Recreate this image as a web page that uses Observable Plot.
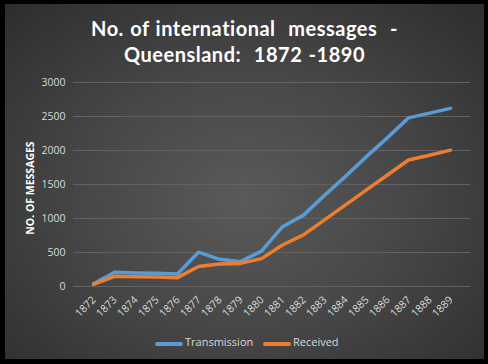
<!DOCTYPE html>
<html><head><meta charset="utf-8">
<script src="https://cdn.jsdelivr.net/npm/d3@7"></script>
<script src="https://cdn.jsdelivr.net/npm/@observablehq/plot@0.6"></script>
<style>
html,body{margin:0;padding:0;background:#000;}
#outer{position:relative;width:488px;height:364px;background:#000;overflow:hidden;font-family:"Open Sans",Lato,sans-serif;}
#inner{position:absolute;left:5px;top:4px;width:479px;height:355px;
 background:radial-gradient(ellipse 75% 80% at 50% 55%, #5a5a5a 0%, #474747 45%, #2b2b2b 100%);}
#title{position:absolute;left:0;top:11px;width:479px;text-align:center;color:#fff;font-family:Lato,"Open Sans",sans-serif;font-weight:bold;font-size:20px;line-height:26px;letter-spacing:0.5px;word-spacing:1px;white-space:pre;}
#ylab{position:absolute;left:25px;top:184px;transform:translate(-50%,-50%) rotate(-90deg);color:#fff;font-weight:bold;font-size:10.5px;white-space:nowrap;font-family:"Open Sans",sans-serif;}
#chart{position:absolute;left:0;top:66px;}
#legend{position:absolute;top:327px;left:0;width:479px;font-size:11px;color:#d9d9d9;font-family:"Open Sans",sans-serif;}
.sw{position:absolute;height:3.5px;width:28px;top:11px;border-radius:2px;}
.lt{position:absolute;top:3px;}
</style></head>
<body>
<div id="outer"><div id="inner">
<div id="title">No. of international  messages  -
Queensland:  1872 -1890</div>
<div id="chart"></div>
<div id="ylab">NO. OF MESSAGES</div>
<div id="legend"></div>
</div></div>
<script>
const years = ["1872","1873","1874","1875","1876","1877","1878","1879","1880","1881","1882","1883","1884","1885","1886","1887","1888","1889"];
const transmission = [40, 210, 200, 195, 185, 505, 400, 365, 520, 880, 1050, 1340, 1620, 1910, 2190, 2480, 2550, 2620];
const received = [30, 150, 145, 140, 130, 295, 330, 340, 410, 610, 760, 980, 1200, 1420, 1640, 1860, 1930, 2005];
const seriesNames = ["Transmission", "Received"];
const seriesColors = ["#5b9bd5", "#ed7d31"];
const yTicks = [0, 500, 1000, 1500, 2000, 2500, 3000];

const data = [];
years.forEach((y, i) => {
  data.push({year: y, value: transmission[i], series: seriesNames[0]});
  data.push({year: y, value: received[i], series: seriesNames[1]});
});

const plot = Plot.plot({
  width: 479,
  height: 262,
  marginLeft: 68,
  marginRight: 14,
  marginTop: 12,
  marginBottom: 46,
  style: {background: "transparent", color: "#d9d9d9", fontSize: "10.5px", fontFamily: "'Open Sans', sans-serif"},
  x: {type: "point", domain: years, range: [80, 452], padding: 0, axis: null},
  y: {domain: [0, 3000], ticks: yTicks},
  color: {domain: seriesNames, range: seriesColors},
  marks: [
    Plot.gridY(yTicks, {stroke: "#626262", strokeOpacity: 1, strokeWidth: 1}),
    Plot.axisY(yTicks, {tickSize: 0, tickPadding: 8, label: null, fill: "#d9d9d9", tickFormat: d3.format("d")}),
    Plot.text(years, {x: d => d, frameAnchor: "bottom", dy: 14, dx: 3, rotate: -45, textAnchor: "end", fill: "#d9d9d9", fontSize: 10.5}),
    Plot.line(data, {x: "year", y: "value", z: "series", stroke: "series", strokeWidth: 3.5, strokeLinejoin: "round", strokeLinecap: "round"})
  ]
});
document.getElementById("chart").appendChild(plot);

const leg = document.getElementById("legend");
const pos = [[150, 180], [258, 288]];
seriesNames.forEach((n, i) => {
  const s = document.createElement("div");
  s.className = "sw"; s.style.left = pos[i][0] + "px"; s.style.background = seriesColors[i];
  const t = document.createElement("div");
  t.className = "lt"; t.style.left = pos[i][1] + "px"; t.textContent = n;
  leg.appendChild(s); leg.appendChild(t);
});
</script>
</body></html>
